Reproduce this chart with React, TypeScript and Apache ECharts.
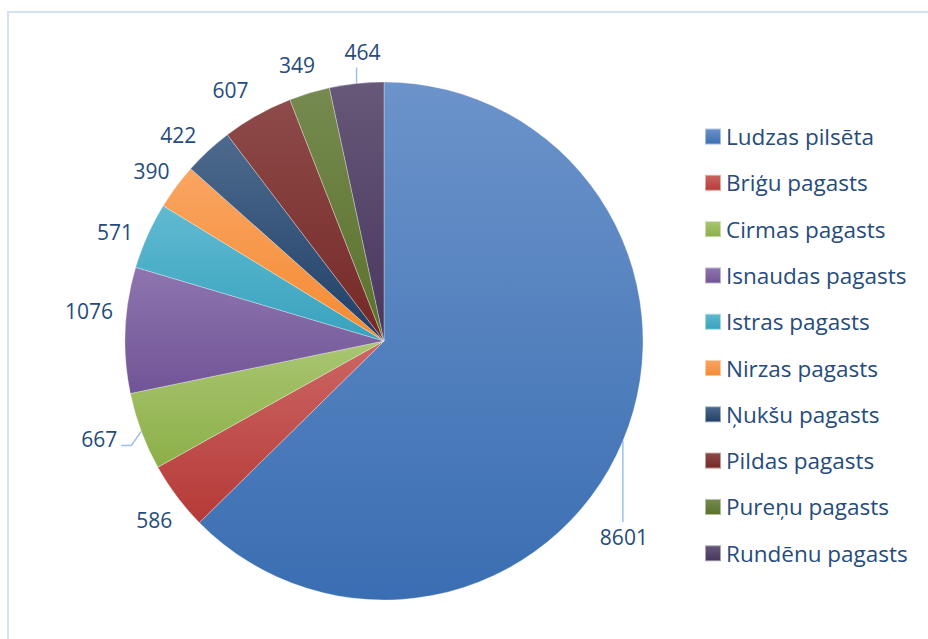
import React, { useEffect, useRef } from "react";
import * as echarts from "echarts";

const categories = [
  "Ludzas pilsēta",
  "Briģu pagasts",
  "Cirmas pagasts",
  "Isnaudas pagasts",
  "Istras pagasts",
  "Nirzas pagasts",
  "Ņukšu pagasts",
  "Pildas pagasts",
  "Pureņu pagasts",
  "Rundēnu pagasts",
];
const values = [8601, 586, 667, 1076, 571, 390, 422, 607, 349, 464];

const topColors = [
  "#6C93CA",
  "#CC6664",
  "#A9C671",
  "#8E75AF",
  "#60BAD1",
  "#F9A562",
  "#4D6A8E",
  "#8D4B49",
  "#768A50",
  "#665878",
];
const bottomColors = [
  "#3A6EB2",
  "#B53A37",
  "#8CAF48",
  "#715496",
  "#38A2BE",
  "#F58A32",
  "#213F66",
  "#752826",
  "#5A712B",
  "#49365E",
];

// label placement nudges (layout only, in px), by slice index
const labelNudges: Record<number, [number, number]> = {
  1: [3, 5],
  3: [0, -18],
  4: [-3, 9],
  5: [1, 3],
  6: [-9, 7],
  7: [-13, 0],
  8: [-5, -3],
};

const CX = 384;
const CY = 341;
const R = 259;
const FONT = "'Open Sans', 'Noto Sans', sans-serif";
const TEXT_COLOR = "#264B7D";

export default function App() {
  const ref = useRef<HTMLDivElement>(null);

  useEffect(() => {
    if (!ref.current) return;
    const chart = echarts.init(ref.current, undefined, { renderer: "svg" });

    const data = categories.map((name, i) => ({
      name,
      value: values[i],
      itemStyle: {
        color: {
          type: "linear",
          x: 0,
          y: 0,
          x2: 0,
          y2: 1,
          colorStops: [
            { offset: 0, color: topColors[i] },
            { offset: 1, color: bottomColors[i] },
          ],
        },
      },
    }));

    const GAP = 12;

    chart.setOption({
      animation: false,
      backgroundColor: "#ffffff",
      graphic: [
        {
          type: "rect",
          shape: { x: 8, y: 12, width: 1000, height: 1000 },
          style: { fill: "none", stroke: "#D6E1EF", lineWidth: 2 },
          silent: true,
        },
      ],
      legend: {
        orient: "vertical",
        left: 704,
        top: 125,
        padding: 0,
        itemWidth: 16,
        itemHeight: 16,
        itemGap: 23.3,
        icon: "rect",
        data: categories,
        textStyle: {
          fontFamily: FONT,
          fontSize: 22.5,
          color: TEXT_COLOR,
        },
      },
      series: [
        {
          type: "pie",
          center: [CX, CY],
          radius: R,
          startAngle: 90,
          clockwise: true,
          avoidLabelOverlap: false,
          itemStyle: { borderColor: "rgba(255,255,255,0.5)", borderWidth: 0.6 },
          label: {
            show: true,
            position: "outside",
            formatter: "{c}",
            fontFamily: FONT,
            fontSize: 21,
            color: TEXT_COLOR,
          },
          labelLine: {
            show: true,
            length: 10,
            length2: 0,
            lineStyle: { color: "#9DBFE8", width: 1.5 },
          },
          emphasis: { disabled: true },
          labelLayout: (p: any) => {
            const pts = p.labelLinePoints;
            if (!pts) return {};
            const p0 = pts[0];
            const dx = p0[0] - CX;
            const dy = p0[1] - CY;
            const len = Math.hypot(dx, dy) || 1;
            const ux = dx / len;
            const uy = dy / len;
            if (p.dataIndex === 0) {
              const end = [p0[0], p0[1] + 81];
              return {
                x: p0[0] + 1,
                y: p0[1] + 96,
                align: "center",
                verticalAlign: "middle",
                labelLinePoints: [p0, end, end],
              };
            }
            if (p.dataIndex === 9) {
              const end = [p0[0], p0[1] - 16];
              return {
                x: p0[0] + 6,
                y: p0[1] - 31,
                align: "center",
                verticalAlign: "middle",
                labelLinePoints: [p0, end, end],
              };
            }
            if (p.dataIndex === 2) {
              const bend = [p0[0] - 10, p0[1] + 14];
              const end = [p0[0] - 20, p0[1] + 14];
              return {
                x: p0[0] - 24,
                y: p0[1] + 8,
                align: "right",
                verticalAlign: "middle",
                labelLinePoints: [p0, bend, end],
              };
            }
            const w = p.labelRect.width / 2;
            const h = (p.labelRect.height / 2) * 0.85;
            const d = GAP + Math.abs(ux) * w + Math.abs(uy) * h;
            const nudge = labelNudges[p.dataIndex] || [0, 0];
            return {
              x: p0[0] + ux * d + nudge[0],
              y: p0[1] + uy * d + nudge[1],
              align: "center",
              verticalAlign: "middle",
              labelLinePoints: [p0, p0, p0],
            };
          },
          data,
        },
      ],
    });

    return () => chart.dispose();
  }, []);

  return (
    <div
      ref={ref}
      style={{ position: "absolute", left: 0, top: 0, width: 928, height: 639 }}
    />
  );
}
